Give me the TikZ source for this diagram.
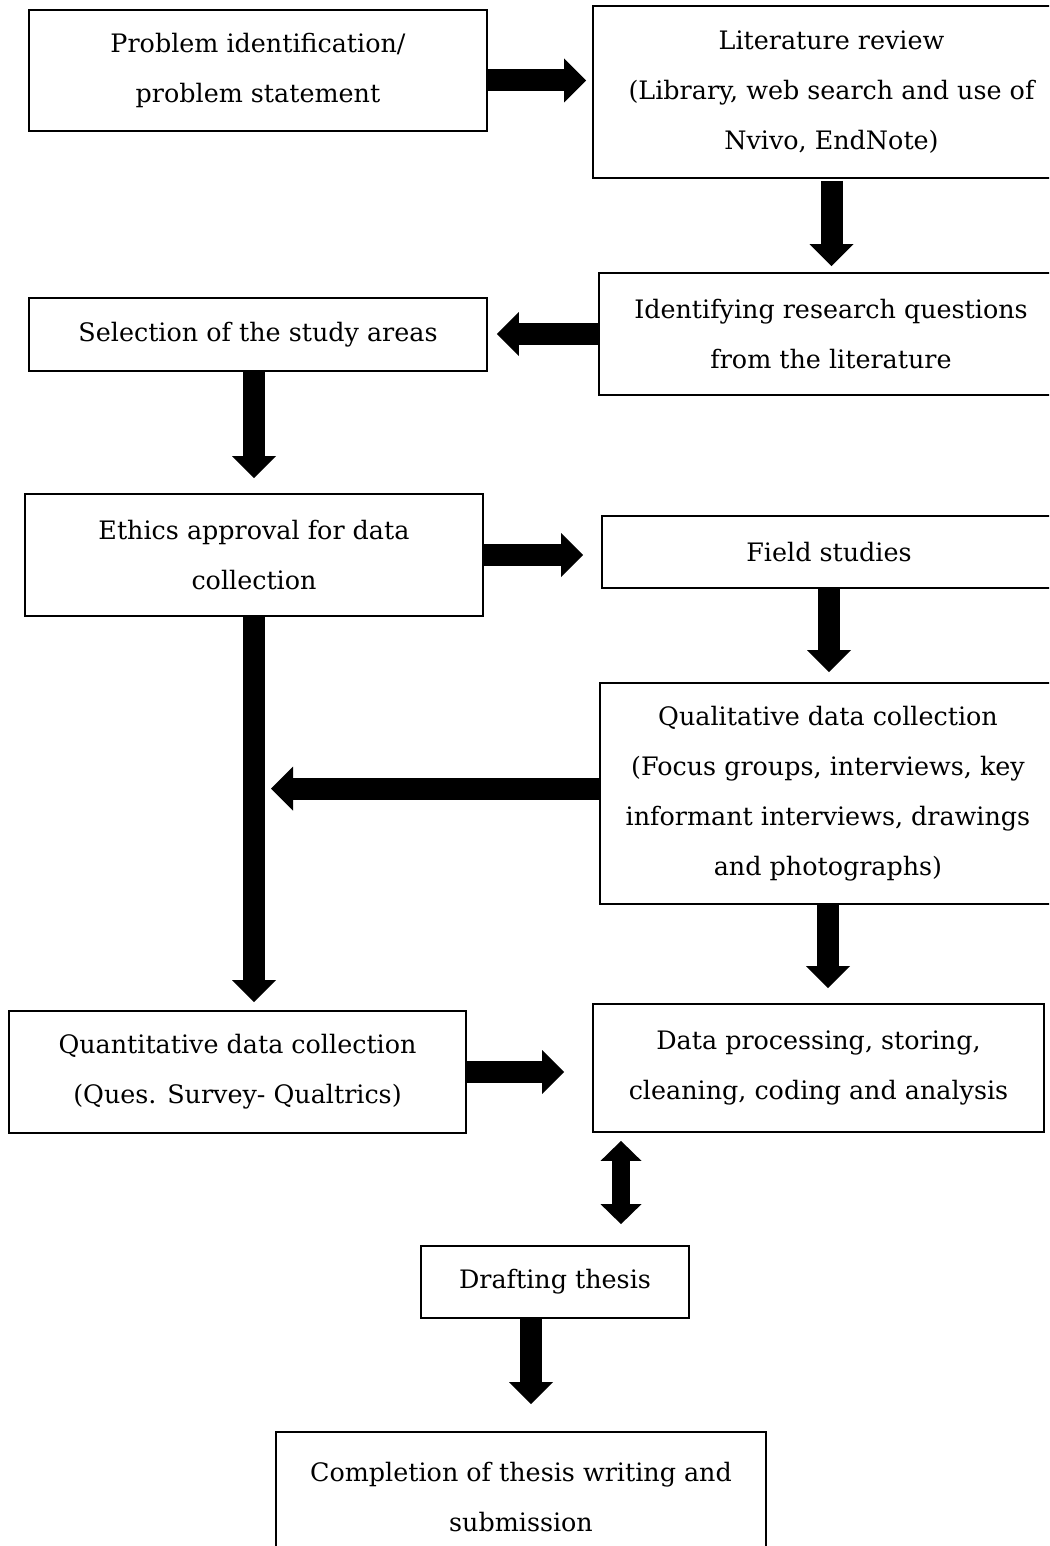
\documentclass[tikz,border=0pt]{standalone}
\usepackage{fontspec}
\setmainfont{DejaVu Serif}
\usetikzlibrary{arrows.meta}

\begin{document}
\begin{tikzpicture}[
  x=1pt,y=-1pt,
  font=\fontsize{25.4}{50}\selectfont,
  box/.style={draw,line width=1.8pt,fill=white,align=center,inner sep=0pt},
  fl/.style={line width=22pt,-{Triangle[length=22pt,width=44pt,line width=0pt]}},
  fltwo/.style={line width=18pt,{Triangle[length=20pt,width=41pt,line width=0pt]}-{Triangle[length=20pt,width=41pt,line width=0pt]}}]
\useasboundingbox (0,0) rectangle (1049,1546);
\clip (0,0) rectangle (1049,1546);
% left column
\node[box,minimum width=458pt,minimum height=121pt] (prob) at (258,70.5) {Problem identification/\\ problem statement};
\node[box,minimum width=458pt,minimum height=73pt] (sel) at (258,334.5) {Selection of the study areas};
\node[box,minimum width=458pt,minimum height=122pt] (ethics) at (254,555) {Ethics approval for data\\ collection};
\node[box,minimum width=457pt,minimum height=122pt] (quant) at (237.5,1072) {Quantitative data collection\\ (Ques. Survey- Qualtrics)};
% right column
\node[box,minimum width=477pt,minimum height=172pt] (lit) at (831.5,92) {Literature review\\ (Library, web search and use of\\ Nvivo, EndNote)};
\node[box,minimum width=464pt,minimum height=122pt] (ident) at (831,334) {Identifying research questions\\ from the literature};
\node[box,minimum width=454pt,minimum height=72pt] (field) at (829,552) {Field studies};
\node[box,minimum width=456pt,minimum height=221pt] (qual) at (828,793.5) {Qualitative data collection\\ (Focus groups, interviews, key\\ informant interviews, drawings\\ and photographs)};
\node[box,minimum width=451pt,minimum height=128pt] (data) at (818.5,1068) {Data processing, storing,\\ cleaning, coding and analysis};
% thesis
\node[box,minimum width=268pt,minimum height=72pt] (draft) at (555,1282) {Drafting thesis};
\node[box,minimum width=490pt,minimum height=130pt] (comp) at (521,1497) {Completion of thesis writing and\\ submission};
% block arrows
\draw[fl,shorten >=6pt] ([yshift=-10pt]prob.east) -- ([yshift=-10pt]prob.east -| lit.west);
\draw[fl,shorten <=2pt,shorten >=6pt] (lit.south) -- (lit.south |- ident.north);
\draw[fl,shorten >=9pt] (ident.west) -- (ident.west -| sel.east);
\draw[fl,shorten >=15pt] (sel.south -| ethics.north) -- (ethics.north);
\draw[fl,shorten >=18pt] (ethics.east) -- (ethics.east -| field.west);
\draw[fl,shorten >=10pt] (field.south) -- (field.south |- qual.north);
\draw[fl,shorten >=17pt] ([yshift=5pt]qual.west) -- ([yshift=5pt]qual.west -| ethics.south);
\draw[fl,shorten >=8pt] (ethics.south) -- (ethics.south |- quant.north);
\draw[fl,shorten >=15pt] (qual.south) -- (qual.south |- data.north);
\draw[fl,shorten >=28pt] (quant.east) -- (quant.east -| data.west);
\draw[fltwo,shorten <=8pt,shorten >=21pt] ([xshift=66pt]draft.north |- data.south) -- ([xshift=66pt]draft.north);
\draw[fl,shorten >=27pt] ([xshift=-24pt]draft.south) -- ([xshift=-24pt]draft.south |- comp.north);
\end{tikzpicture}
\end{document}
